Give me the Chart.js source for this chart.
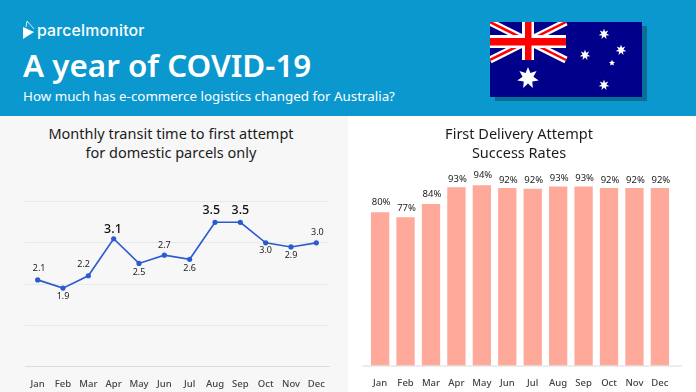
<!DOCTYPE html>
<html>
<head>
<meta charset="utf-8">
<script src="https://cdn.jsdelivr.net/npm/chart.js@4"></script>
<style>
    html, body { margin: 0; padding: 0; }
    body { width: 696px; height: 392px; position: relative; overflow: hidden; background: #fff; font-family: "Noto Sans", sans-serif; }
    .header { position: absolute; left: 0; top: 0; width: 696px; height: 116px; background: #0b98cf; color: #fff; }
    .brand { position: absolute; left: 37px; top: 21px; font: 500 15.8px Inter, sans-serif; letter-spacing: 0.2px; }
    .logo { position: absolute; left: 22px; top: 20px; }
    h1 { position: absolute; left: 23px; top: 45px; margin: 0; font-size: 31.4px; line-height: 40px; font-weight: 600; white-space: nowrap; }
    .sub { position: absolute; left: 23px; top: 87px; font-size: 13.35px; line-height: 18px; white-space: nowrap; }
    .flag { position: absolute; left: 490px; top: 22px; width: 152px; height: 75px; box-shadow: 5px 4px 0 #0a6f97; display: block; }
    .panel { position: absolute; top: 116px; height: 276px; }
    #left { left: 0; width: 348px; background: #f7f7f7; }
    #right { left: 348px; width: 348px; background: #fff; }
    .title { position: absolute; left: -3px; width: 100%; top: 8px; text-align: center; font-size: 14.5px; line-height: 19px; color: #1c1c1c; }
    canvas { position: absolute; left: 0; top: 0; }
</style>
</head>
<body>
<div class="header">
    <svg class="logo" width="14" height="20" viewBox="0 0 14 20">
        <path d="M1 7 L12 12 L1 19 Z" fill="#fff"/>
        <path d="M4 7 L5 1 L12 9" fill="none" stroke="#fff" stroke-width="0.8"/>
    </svg>
    <div class="brand">parcelmonitor</div>
    <h1>A year of COVID-19</h1>
    <div class="sub">How much has e-commerce logistics changed for Australia?</div>
    <svg class="flag" viewBox="0 0 152 75">
        <rect width="152" height="75" fill="#00008b"/>
        <path d="M0 0 L76 38 M76 0 L0 38" stroke="#fff" stroke-width="7"/>
        <path d="M0 0 L76 38 M76 0 L0 38" stroke="#f00" stroke-width="2.5"/>
        <rect x="32" y="0" width="12" height="38" fill="#fff"/>
        <rect x="0" y="13" width="76" height="13" fill="#fff"/>
        <rect x="35" y="0" width="6.5" height="38" fill="#f00"/>
        <rect x="0" y="16" width="76" height="7.5" fill="#f00"/>
        <g fill="#fff" id="stars"></g>
    </svg>
</div>
<div class="panel" id="left">
    <div class="title">Monthly transit time to first attempt<br>for domestic parcels only</div>
    <canvas id="transitChart" width="348" height="276"></canvas>
</div>
<div class="panel" id="right">
    <div class="title">First Delivery Attempt<br>Success Rates</div>
    <canvas id="rateChart" width="348" height="276"></canvas>
</div>
<script>
const months = ['Jan', 'Feb', 'Mar', 'Apr', 'May', 'Jun', 'Jul', 'Aug', 'Sep', 'Oct', 'Nov', 'Dec'];
const transitDays = [2.1, 1.9, 2.2, 3.1, 2.5, 2.7, 2.6, 3.5, 3.5, 3.0, 2.9, 3.0];
const transitTicks = [0, 1, 2, 3, 4];
const transitBig = [3, 7, 8];
const successRates = [80, 77.4, 84.3, 93, 94, 92.6, 92.2, 93.4, 93.4, 92.6, 92.6, 92.6];
const successLabels = ['80%', '77%', '84%', '93%', '94%', '92%', '92%', '93%', '93%', '92%', '92%', '92%'];

// label nudges from the point, in px
const transitDx = [1.5, 0, -4.7, -0.7, 0, 0, 0, -3.7, 0, 0, 0, 1];
const transitDy = [-11.5, 8, -11, -9, 9, -10, 9, -11.5, -11.5, 8, 8, -10];
const rateDx = [1, 1, 1, 1, 1, 1, 1, 1, 1, 1, 1, 1];
const rateDy = [-10, -9, -10, -8, -10, -8, -8, -8, -8.5, -8, -8, -8];

// flag stars
const starList = [[38, 56, 11, 5.5, 7], [114, 12, 5.5, 2.5, 7], [95, 33, 5.5, 2.5, 7], [131, 28, 5.5, 2.5, 7], [122, 41, 3.2, 1.5, 5], [114, 63, 5.5, 2.5, 7]];
let starSvg = '';
starList.forEach(s => {
    let pts = [];
    for (let i = 0; i < s[4] * 2; i++) {
        const r = i % 2 === 0 ? s[2] : s[3];
        const a = -Math.PI / 2 + i * Math.PI / s[4];
        pts.push((s[0] + r * Math.cos(a)).toFixed(1) + ',' + (s[1] + r * Math.sin(a)).toFixed(1));
    }
    starSvg += '<polygon points="' + pts.join(' ') + '"/>';
});
document.getElementById('stars').innerHTML = starSvg;

// value labels over the points and bars
const valueLabels = {
    id: 'valueLabels',
    afterDatasetsDraw(chart, args, opts) {
        const ctx = chart.ctx;
        const meta = chart.getDatasetMeta(0);
        ctx.save();
        ctx.textAlign = 'center';
        ctx.textBaseline = 'middle';
        meta.data.forEach((el, i) => {
            const big = opts.big.includes(i);
            ctx.font = big ? '500 12.5px "Noto Sans"' : '400 ' + opts.size + 'px "Noto Sans"';
            ctx.fillStyle = big ? '#111' : '#222';
            ctx.fillText(opts.text[i], el.x + opts.dx[i], el.y + opts.dy[i]);
        });
        ctx.restore();
    }
};

// axis line on the bar chart runs wider than the bars
const baseLine = {
    id: 'baseLine',
    afterDraw(chart, args, opts) {
        if (!opts.draw) return;
        const ctx = chart.ctx;
        const y = chart.scales.y.getPixelForValue(0);
        ctx.save();
        ctx.strokeStyle = '#e6e6e6';
        ctx.lineWidth = 1.5;
        ctx.beginPath();
        ctx.moveTo(14.7, y);
        ctx.lineTo(334, y);
        ctx.stroke();
        ctx.restore();
    }
};

const tickFont = { family: '"Noto Sans"', size: 9.5, weight: '500' };

new Chart(document.getElementById('transitChart'), {
    type: 'line',
    data: {
        labels: months,
        datasets: [{
            data: transitDays,
            borderColor: '#2a5bd0',
            backgroundColor: '#2a5bd0',
            borderWidth: 1.6,
            pointRadius: 1.8,
            tension: 0
        }]
    },
    options: {
        responsive: false,
        animation: false,
        layout: { padding: { left: 25, right: 19, top: 85.7, bottom: 0.7 } },
        plugins: {
            legend: { display: false },
            tooltip: { enabled: false },
            valueLabels: { text: transitDays.map(v => v.toFixed(1)), big: transitBig, size: 9, dx: transitDx, dy: transitDy },
            baseLine: { draw: false }
        },
        scales: {
            x: {
                offset: true,
                afterFit(axis) { axis.height = 25; },
                grid: { display: false },
                border: { color: '#dcdcdc' },
                ticks: { font: tickFont, color: '#444', padding: 4, maxRotation: 0, autoSkip: false }
            },
            y: {
                min: 0,
                max: 4,
                afterBuildTicks(axis) { axis.ticks = transitTicks.map(v => ({ value: v })); },
                afterFit(axis) { axis.width = 0; },
                grid: { color: '#e9e9e9', drawTicks: false },
                border: { display: false },
                ticks: { display: false }
            }
        }
    },
    plugins: [valueLabels, baseLine]
});

new Chart(document.getElementById('rateChart'), {
    type: 'bar',
    data: {
        labels: months,
        datasets: [{
            data: successRates,
            backgroundColor: '#ffa99b',
            categoryPercentage: 0.72,
            barPercentage: 1
        }]
    },
    options: {
        responsive: false,
        animation: false,
        layout: { padding: { left: 19.4, right: 23.4, top: 50, bottom: 1 } },
        plugins: {
            legend: { display: false },
            tooltip: { enabled: false },
            valueLabels: { text: successLabels, big: [], size: 9.5, dx: rateDx, dy: rateDy },
            baseLine: { draw: true }
        },
        scales: {
            x: {
                afterFit(axis) { axis.height = 25; },
                grid: { display: false },
                border: { display: false },
                ticks: { font: tickFont, color: '#444', padding: 4, maxRotation: 0, autoSkip: false }
            },
            y: {
                display: false,
                min: 0,
                max: 104
            }
        }
    },
    plugins: [valueLabels, baseLine]
});
</script>
</body>
</html>
